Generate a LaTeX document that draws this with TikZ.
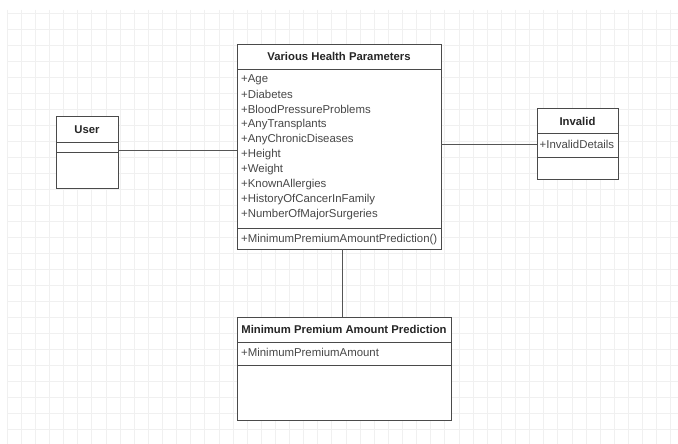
\documentclass[tikz,border=0pt]{standalone}
\usepackage{fontspec}
\setmainfont{Liberation Sans}
\begin{document}
\begin{tikzpicture}[x=1pt,y=-1pt,
  classbox/.style={draw=boxline,line width=0.9pt,fill=white},
  sepline/.style={draw=boxline,line width=0.85pt},
  link/.style={draw=linkgray,line width=0.8pt},
  title/.style={font=\fontsize{11.3}{13}\selectfont\bfseries,text=black!85,inner sep=0pt,anchor=center},
  member/.style={font=\fontsize{11.4}{13}\selectfont,text=black!72,inner sep=0pt,anchor=west},
  gridline/.style={draw=black!6,line width=0.6pt}]
\definecolor{boxline}{HTML}{4A4A4A}
\definecolor{linkgray}{HTML}{555555}
\useasboundingbox (0,0) rectangle (678,444);
\fill[white] (0,0) rectangle (678,444);

% background grid
\foreach \k in {0,...,47} {
  \draw[gridline] ({7+14.12*\k},10) -- ({7+14.12*\k},444);
}
\foreach \k in {0,...,27} {
  \draw[gridline] (7,{13+16*\k}) -- (678,{13+16*\k});
}

% class: Various Health Parameters
\draw[classbox] (237,44) rectangle (441,249);
\coordinate (vhpL) at (237,150);
\coordinate (vhpR) at (441,144);
\coordinate (vhpB) at (342,249);
\draw[sepline] (237,69) -- (441,69);
\draw[sepline] (237,228) -- (441,228);
\node[title] (vhpt) at (339,56.5) {Various Health Parameters};
\foreach \t [count=\i from 0] in {+Age,+Diabetes,+BloodPressureProblems,+AnyTransplants,+AnyChronicDiseases,+Height,+Weight,+KnownAllergies,+HistoryOfCancerInFamily,+NumberOfMajorSurgeries} {
  \node[member] (vhpa\i) at (241,{79.8+14.95*\i}) {\t};
}
\node[member] (vhpm) at (241,239.3) {+MinimumPremiumAmountPrediction()};

% class: User
\draw[classbox] (56,116) rectangle (118,188);
\coordinate (userR) at (118,150);
\draw[sepline] (56,142) -- (118,142);
\draw[sepline] (56,152) -- (118,152);
\node[title] (usert) at (87,129.5) {User};

% class: Invalid
\draw[classbox] (537,108) rectangle (618,179);
\coordinate (invL) at (537,144);
\draw[sepline] (537,133) -- (618,133);
\draw[sepline] (537,157) -- (618,157);
\node[title] (invt) at (577.5,121) {Invalid};
\node[member] (inva) at (539.5,144.8) {+InvalidDetails};

% class: Minimum Premium Amount Prediction
\draw[classbox] (237,317) rectangle (451,420);
\coordinate (mpT) at (342,317);
\draw[sepline] (237,342) -- (451,342);
\draw[sepline] (237,365) -- (451,365);
\node[title] (mpt) at (344,329.5) {Minimum Premium Amount Prediction};
\node[member] (mpa) at (241,352.8) {+MinimumPremiumAmount};

% associations
\draw[link] (userR) -- (vhpL);
\draw[link] (vhpR) -- (invL);
\draw[link] (vhpB) -- (mpT);
\end{tikzpicture}
\end{document}
